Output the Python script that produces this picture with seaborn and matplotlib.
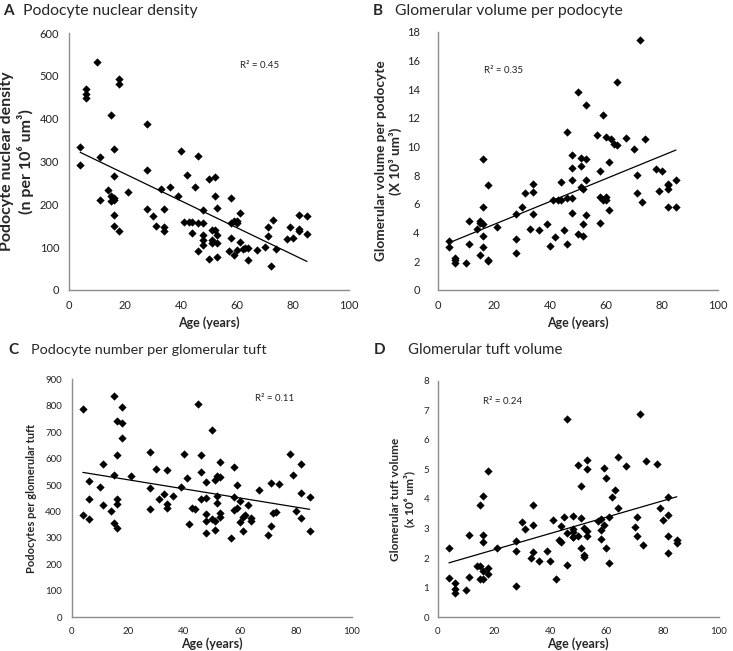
import numpy as np
import pandas as pd
import matplotlib
matplotlib.use("Agg")
import matplotlib.pyplot as plt
import seaborn as sns

# ---------------- data ----------------
age_a = [4, 4, 6, 6, 6, 10, 11, 11, 14, 15, 15, 15, 16, 16, 16, 16, 16, 16, 18, 18, 18, 21,
         28, 28, 28, 30, 31, 33, 34, 34, 34, 36, 39, 40, 41, 42, 43, 44, 44, 45, 46, 46, 46,
         48, 48, 48, 48, 48, 50, 50, 51, 51, 51, 52, 52, 52, 53, 53, 53, 53, 57, 58, 58, 58,
         59, 59, 60, 60, 60, 61, 61, 62, 63, 64, 64, 67, 70, 71, 71, 72, 73, 74, 78, 79, 80,
         82, 82, 82, 85, 85]
density = [335, 292, 469, 457, 448, 533, 310, 209, 234, 409, 220, 207, 329, 265, 214, 210, 174, 149,
           492, 480, 137, 228, 388, 279, 190, 173, 149, 235, 189, 148, 138, 240, 220, 324, 159, 269,
           159, 159, 133, 240, 312, 156, 90, 187, 156, 129, 117, 106, 260, 72, 140, 117, 109, 263,
           219, 141, 192, 129, 109, 78, 92, 214, 156, 121, 82, 160, 160, 156, 94, 179, 111, 96, 98,
           99, 69, 94, 101, 148, 125, 57, 164, 95, 119, 146, 121, 174, 142, 137, 173, 130]

age_b = [4, 4, 6, 6, 6, 10, 11, 11, 14, 15, 15, 15, 16, 16, 16, 16, 16, 18, 18, 18, 21,
         28, 28, 28, 30, 31, 33, 34, 34, 34, 36, 39, 40, 41, 42, 43, 44, 44, 45, 46, 46, 46,
         48, 48, 48, 48, 48, 50, 50, 51, 51, 51, 52, 52, 52, 53, 53, 53, 53, 57, 58, 58, 58,
         59, 59, 60, 60, 60, 61, 61, 62, 63, 64, 64, 67, 70, 71, 71, 72, 73, 74, 78, 79, 80,
         82, 82, 82, 82, 85, 85]
vol_per_pod = [3.41, 2.97, 2.23, 2.12, 1.86, 1.86, 4.79, 3.23, 4.23, 4.83, 4.65, 2.44,
               4.6, 9.15, 5.76, 3.77, 3.02, 7.32, 2.07, 2.03, 4.39, 5.27, 3.58, 2.58, 5.8, 6.78,
               4.22, 7.37, 6.83, 5.3, 4.16, 4.57, 3.09, 6.29, 3.69, 6.29, 6.29, 7.55, 4.18,
               11.0, 6.42, 3.21, 9.38, 8.48, 7.69, 6.42, 5.38, 13.82, 3.87, 9.18, 8.64, 7.2,
               7.01, 4.6, 3.79, 12.89, 9.13, 7.69, 5.2, 10.82, 8.27, 6.45, 4.69, 12.2, 6.3,
               10.68, 6.25, 6.45, 8.9, 5.6, 10.54, 10.2, 10.1, 14.5, 10.6, 9.83, 8.04, 6.74,
               17.4, 6.16, 10.54, 8.43, 6.88, 8.3, 7.38, 7.3, 7.01, 5.76, 7.7, 5.76]

age_c = [4, 4, 6, 6, 6, 10, 11, 11, 14, 15, 15, 15, 16, 16, 16, 16, 16, 18, 18, 18, 21,
         28, 28, 28, 30, 31, 33, 34, 34, 34, 36, 39, 40, 41, 42, 43, 44, 45, 46, 46, 46,
         48, 48, 48, 48, 48, 50, 50, 51, 51, 51, 52, 52, 52, 53, 53, 53, 53, 57, 58, 58, 58,
         59, 59, 60, 60, 61, 61, 62, 63, 64, 64, 67, 70, 71, 71, 72, 73, 74, 78, 79, 80,
         82, 82, 82, 85, 85]
pod_number = [788, 387, 515, 449, 373, 494, 581, 424, 401, 838, 538, 355, 741, 614, 446, 429, 338,
              794, 734, 679, 536, 626, 490, 409, 562, 446, 468, 557, 427, 413, 459, 494, 619, 528,
              352, 415, 409, 807, 612, 549, 446, 511, 451, 392, 363, 317, 708, 372, 518, 366, 329,
              536, 460, 433, 586, 532, 396, 380, 299, 568, 456, 404, 499, 413, 441, 360, 380, 327,
              386, 424, 374, 366, 480, 311, 506, 346, 393, 397, 503, 617, 540, 401, 578, 469, 375,
              454, 326]

age_d = [4, 4, 6, 6, 6, 10, 11, 11, 14, 15, 15, 15, 16, 16, 16, 16, 16, 18, 18, 18, 21,
         28, 28, 28, 30, 31, 33, 34, 34, 34, 36, 39, 40, 41, 42, 43, 44, 44, 45, 46, 46, 46,
         48, 48, 48, 48, 48, 50, 50, 51, 51, 51, 52, 52, 52, 53, 53, 53, 53, 57, 58, 58, 58,
         59, 59, 60, 60, 61, 61, 62, 63, 64, 64, 67, 70, 71, 71, 72, 73, 74, 78, 79, 80,
         82, 82, 82, 82, 85, 85]
tuft_vol = [2.35, 1.33, 1.15, 0.96, 0.83, 0.93, 2.78, 1.36, 1.72, 3.8, 1.72, 1.31, 4.1, 2.79, 2.55,
            1.57, 1.31, 4.95, 1.66, 1.48, 2.34, 2.57, 2.24, 1.06, 3.23, 3.0, 2.0, 3.8, 3.12, 2.2,
            1.91, 2.25, 1.91, 3.3, 1.31, 2.6, 2.55, 3.09, 3.38, 6.71, 2.85, 1.77, 3.42, 3.0, 2.88,
            2.73, 2.7, 5.15, 2.74, 4.43, 3.35, 2.33, 3.03, 2.1, 2.05, 5.31, 5.02, 2.93, 2.75,
            3.24, 3.33, 2.94, 2.65, 5.06, 3.12, 4.72, 2.33, 3.39, 1.82, 4.08, 4.32, 5.42, 3.71,
            5.1, 3.05, 3.39, 2.76, 6.87, 2.44, 5.28, 5.17, 3.69, 3.3, 4.07, 3.45, 2.75, 2.16,
            2.6, 2.5]

letters = ["A", "B", "C", "D"]
titles = ["Podocyte nuclear density", "Glomerular volume per podocyte",
          "Podocyte number per glomerular tuft", "Glomerular tuft volume"]
ylabels = ["Podocyte nuclear density\n(n per 10\u2076 um\u00b3)",
           "Glomerular volume per podocyte\n(X 10\u00b3 um\u00b3)",
           "Podocytes per glomerular tuft",
           "Glomerular tuft volume\n(x 10\u2076 um\u00b3)"]
r2_labels = ["R\u00b2 = 0.45", "R\u00b2 = 0.35", "R\u00b2 = 0.11", "R\u00b2 = 0.24"]
xlabel = "Age (years)"

# ---------------- style ----------------
sns.set_style("white")
plt.rcParams["font.family"] = ["Lato", "DejaVu Sans"]

fig = plt.figure(figsize=(7.33, 6.51), dpi=100)
W, H = 733, 651

def rect(x0, x1, ytop, ybot):
    return [x0 / W, (H - ybot) / H, (x1 - x0) / W, (ybot - ytop) / H]

panels = [
    dict(rect=rect(69, 349, 33, 290), x=age_a, y=density, ylim=(0, 600), ystep=100,
         r2=(61, 524), ylab_fs=11.5, ypad=4, ytick_pad=4, tick_fs=8, xlab_pad=4,
         title_xy=(3, 11), title_off=20, title_fs=11.3),
    dict(rect=rect(437.7, 718, 31.7, 290), x=age_b, y=vol_per_pod, ylim=(0, 18), ystep=2,
         r2=(16.5, 15.3), ylab_fs=9.8, ypad=3, ytick_pad=10, tick_fs=8, xlab_pad=4,
         title_xy=(373, 11), title_off=22, title_fs=11.3),
    dict(rect=rect(71.7, 351.7, 379.3, 617.3), x=age_c, y=pod_number, ylim=(0, 900), ystep=100,
         r2=(65.5, 826), ylab_fs=8, ypad=6, ytick_pad=4, tick_fs=7, xlab_pad=1,
         title_xy=(8, 350), title_off=23, title_fs=10.4),
    dict(rect=rect(437.7, 719, 380.7, 617.3), x=age_d, y=tuft_vol, ylim=(0, 8), ystep=1,
         r2=(16, 7.31), ylab_fs=8.5, ypad=6, ytick_pad=3, tick_fs=7, xlab_pad=1,
         title_xy=(374, 350), title_off=34, title_fs=10.8),
]

spine_col = "#8c8c8c"
for i, p in enumerate(panels):
    ax = fig.add_axes(p["rect"])
    df = pd.DataFrame({"age": p["x"], "val": p["y"]})
    sns.scatterplot(data=df, x="age", y="val", marker="D", color="black", s=15,
                    edgecolor="black", linewidth=0.3, ax=ax, zorder=3)
    sns.regplot(data=df, x="age", y="val", scatter=False, ci=None, truncate=True,
                color="black", line_kws=dict(lw=0.9), ax=ax)
    ax.set_xlim(0, 100)
    ax.set_ylim(*p["ylim"])
    ax.set_xticks(np.arange(0, 101, 20))
    ax.set_yticks(np.arange(p["ylim"][0], p["ylim"][1] + 1e-9, p["ystep"]))
    for s in ["top", "right"]:
        ax.spines[s].set_visible(False)
    for s in ["left", "bottom"]:
        ax.spines[s].set_color(spine_col)
        ax.spines[s].set_linewidth(1.0)
    ax.tick_params(axis="both", which="major", direction="out", length=3, width=0.8,
                   color=spine_col, labelsize=p["tick_fs"], labelcolor="#222222")
    ax.tick_params(axis="x", pad=4)
    ax.tick_params(axis="y", pad=p["ytick_pad"])
    ax.set_xlabel(xlabel, fontsize=9, fontweight="bold", labelpad=p["xlab_pad"])
    ax.set_ylabel(ylabels[i], fontsize=p["ylab_fs"], fontweight="bold", labelpad=p["ypad"],
                  linespacing=1.25)
    ax.text(p["r2"][0], p["r2"][1], r2_labels[i], fontsize=7, ha="left", va="center",
            color="#222222")
    tx, ty = p["title_xy"]
    fig.text(tx / W, 1 - ty / H, letters[i], fontsize=11, fontweight="bold",
             ha="left", va="center")
    fig.text((tx + p["title_off"]) / W, 1 - ty / H, titles[i], fontsize=p["title_fs"],
             ha="left", va="center")
    ax.set_facecolor("white")

fig.savefig("out.png", dpi=100, facecolor="white")
